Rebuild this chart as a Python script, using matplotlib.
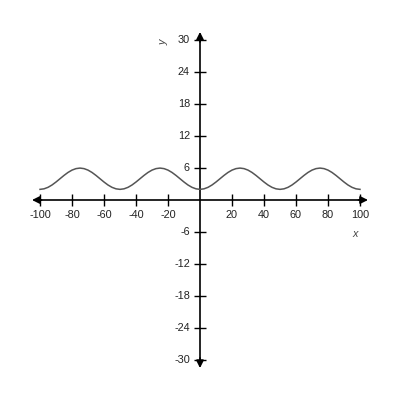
import matplotlib
matplotlib.use('Agg')
import matplotlib.pyplot as plt

plt.rcParams['font.family'] = ['Liberation Sans', 'DejaVu Sans']

# curve samples, every 2.5 units of x
curve_x = [-100 + 2.5 * i for i in range(81)]
curve_y = [
    2.0, 2.1, 2.38, 2.82, 3.38, 4.0, 4.62, 5.18, 5.62, 5.9,
    6.0, 5.9, 5.62, 5.18, 4.62, 4.0, 3.38, 2.82, 2.38, 2.1,
    2.0, 2.1, 2.38, 2.82, 3.38, 4.0, 4.62, 5.18, 5.62, 5.9,
    6.0, 5.9, 5.62, 5.18, 4.62, 4.0, 3.38, 2.82, 2.38, 2.1,
    2.0, 2.1, 2.38, 2.82, 3.38, 4.0, 4.62, 5.18, 5.62, 5.9,
    6.0, 5.9, 5.62, 5.18, 4.62, 4.0, 3.38, 2.82, 2.38, 2.1,
    2.0, 2.1, 2.38, 2.82, 3.38, 4.0, 4.62, 5.18, 5.62, 5.9,
    6.0, 5.9, 5.62, 5.18, 4.62, 4.0, 3.38, 2.82, 2.38, 2.1,
    2.0,
]

x_ticks = [-100, -80, -60, -40, -20, 20, 40, 60, 80, 100]
y_ticks = [-30, -24, -18, -12, -6, 6, 12, 18, 24, 30]

fig = plt.figure(figsize=(4, 4), dpi=100)
ax = fig.add_axes([0, 0, 1, 1])
ax.set_xlim(-125, 125)
ax.set_ylim(-37.6, 37.6)
ax.axis('off')

# axes lines
ax.plot([-100, 100], [0, 0], color='black', lw=1.2)
ax.plot([0, 0], [-30, 30], color='black', lw=1.2)

arrow = dict(arrowstyle='-|>', color='black', lw=1.2, mutation_scale=11,
             shrinkA=0, shrinkB=0)
ax.annotate('', xy=(105, 0), xytext=(99, 0), arrowprops=arrow)
ax.annotate('', xy=(-105, 0), xytext=(-99, 0), arrowprops=arrow)
ax.annotate('', xy=(0, 31.6), xytext=(0, 29.7), arrowprops=arrow)
ax.annotate('', xy=(0, -31.6), xytext=(0, -29.7), arrowprops=arrow)

# ticks and labels
ax.plot(x_ticks, [0] * len(x_ticks), ls='none', marker='|', ms=9,
        mew=1, color='black')
ax.plot([0] * len(y_ticks), y_ticks, ls='none', marker='_', ms=9,
        mew=1, color='black')
for t in x_ticks:
    ax.text(t, -2.8, str(t), ha='center', va='center', fontsize=7.8,
            color='#222222')
for t in y_ticks:
    ax.text(-6.3, t, str(t), ha='right', va='center', fontsize=7.8,
            color='#222222')

ax.text(97, -6.3, 'x', ha='center', va='center', fontsize=7.8,
        style='italic', color='#444444')
ax.text(-23, 29.7, 'y', ha='center', va='center', fontsize=7.8,
        style='italic', rotation=90, color='#444444')

# the curve
ax.plot(curve_x, curve_y, color='#555555', lw=1.1)

fig.savefig('out.png', dpi=100)
